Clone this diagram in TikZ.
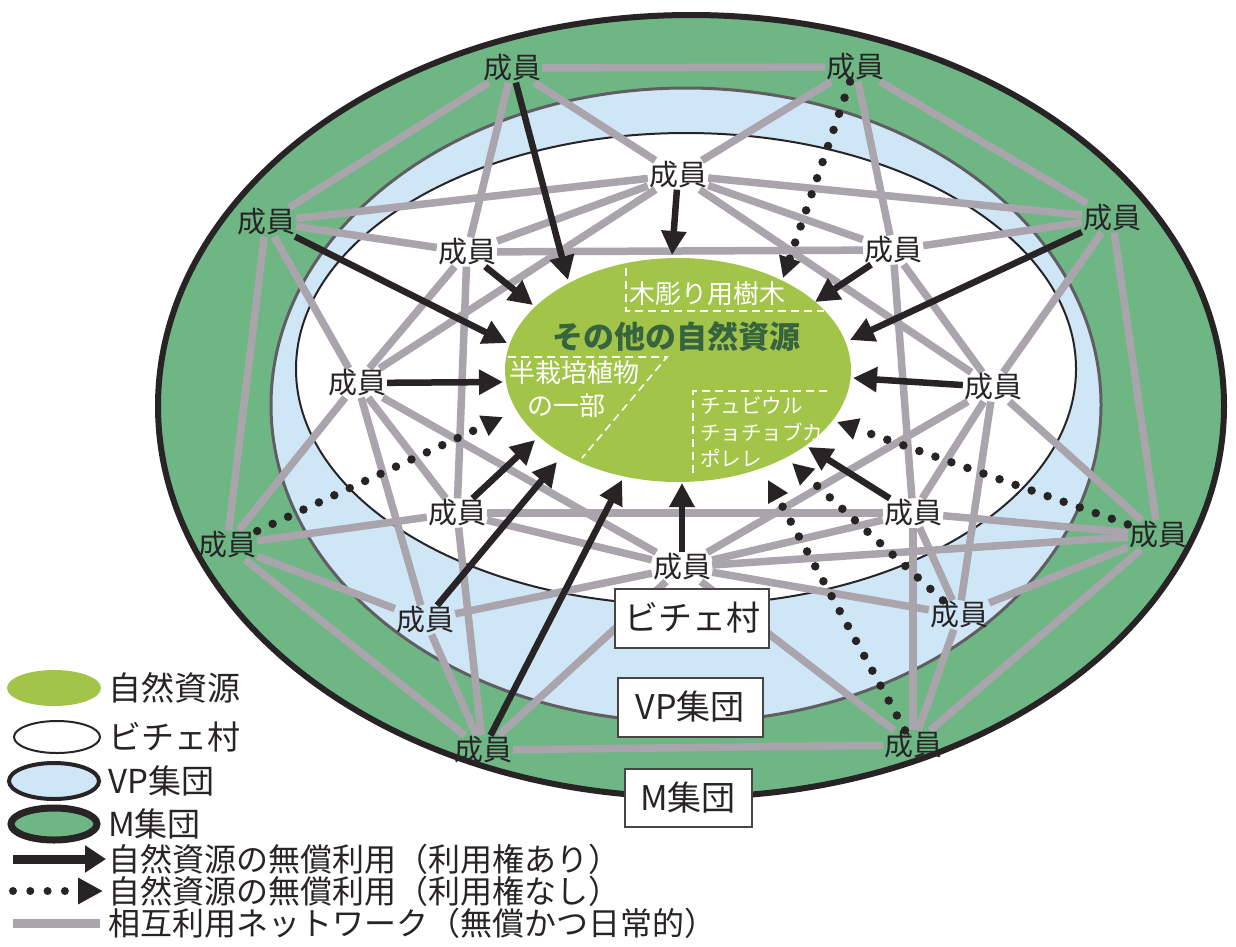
\documentclass[tikz,border=0pt]{standalone}
\usepackage{fontspec}
\setmainfont{Noto Sans CJK JP}
\usetikzlibrary{arrows.meta,shapes.geometric}
\definecolor{mgreen}{RGB}{110,183,133}
\definecolor{vpblue}{RGB}{206,230,246}
\definecolor{resgreen}{RGB}{162,196,72}
\definecolor{netgray}{RGB}{170,164,172}
\definecolor{ink}{RGB}{40,36,38}
\definecolor{restext}{RGB}{55,100,64}
\definecolor{vpline}{RGB}{96,94,98}
\pgfdeclarelayer{bg}
\pgfdeclarelayer{lines}
\pgfsetlayers{bg,lines,main}
\begin{document}
\begin{tikzpicture}[x=1pt,y=-1pt,
  mem/.style={inner sep=1pt,text=ink,font=\fontsize{29}{31}\selectfont},
  net/.style={draw=netgray,line width=7.5pt},
  use/.style={draw=ink,line width=6.5pt,-{Triangle[length=24pt,width=24pt]}},
  free/.style={draw=ink,line width=8.5pt,line cap=round,dash pattern=on 0pt off 17pt,-{Triangle[length=21pt,width=21pt]}},
  sub/.style={text=white,inner sep=0pt},
  wdash/.style={draw=white,line width=1.6pt,dash pattern=on 8pt off 5pt},
  ringlabel/.style={draw=ink!85,line width=2pt,fill=white,text=ink,font=\fontsize{34}{36}\selectfont,inner sep=0pt},
  legtext/.style={anchor=west,text=ink,font=\fontsize{33}{35}\selectfont,inner sep=0pt},
  legtextb/.style={anchor=west,text=ink,font=\fontsize{32}{34}\selectfont,inner sep=0pt},
]
\useasboundingbox (0,0) rectangle (1236,946);
\begin{pgfonlayer}{bg}
  \fill[white] (0,0) rectangle (1236,946);
  \draw[fill=mgreen,draw=ink,line width=6pt] (691,406) ellipse [x radius=533pt,y radius=391pt];
  \draw[fill=vpblue,draw=vpline,line width=3pt] (686,405) ellipse [x radius=415pt,y radius=317pt];
  \draw[fill=white,draw=ink,line width=2pt] (686,369) ellipse [x radius=390pt,y radius=236pt];
  \node[ellipse,fill=resgreen,minimum width=346pt,minimum height=224pt,inner sep=0pt] (res) at (678,370) {};
  \draw[wdash] (626,268) -- (626,311) -- (824,311);
  \draw[wdash] (508,357) -- (667,357) -- (582,458);
  \draw[wdash] (827,391) -- (693,391) -- (693,474);
\end{pgfonlayer}

% resource labels
\node[font=\bfseries\fontsize{31}{33}\selectfont,text=restext,inner sep=0pt] (resname) at (676,337) {その他の自然資源};
\node[sub,font=\fontsize{26}{28}\selectfont] (wood) at (707,294) {木彫り用樹木};
\node[sub,font=\fontsize{26}{28}\selectfont] (semi1) at (574,373) {半栽培植物};
\node[sub,font=\fontsize{26}{28}\selectfont] (semi2) at (566,406) {の一部};
\node[sub,anchor=west,font=\fontsize{20.5}{22}\selectfont] (k1) at (700,405) {チュビウル};
\node[sub,anchor=west,font=\fontsize{20.5}{22}\selectfont] (k2) at (700,432) {チョチョブカ};
\node[sub,anchor=west,font=\fontsize{20.5}{22}\selectfont] (k3) at (700,458) {ポレレ};

% members
\node[mem] (A) at (512,68) {成員};
\node[mem] (B) at (855,67) {成員};
\node[mem] (C) at (678,175) {成員};
\node[mem] (D) at (266,222) {成員};
\node[mem] (E) at (1112,218) {成員};
\node[mem] (F) at (467,252) {成員};
\node[mem] (G) at (893,250) {成員};
\node[mem] (H) at (357,383) {成員};
\node[mem] (I) at (993,387) {成員};
\node[mem] (J) at (457,513) {成員};
\node[mem] (K) at (913,513) {成員};
\node[mem] (L) at (227,545) {成員};
\node[mem] (M) at (1158,535) {成員};
\node[mem] (N) at (682,567) {成員};
\node[mem] (O) at (425,620) {成員};
\node[mem] (P) at (959,615) {成員};
\node[mem] (Q) at (483,750) {成員};
\node[mem] (R) at (913,745) {成員};

% ring labels
\node[ringlabel,minimum width=154pt,minimum height=59pt] (vil) at (692,618) {ビチェ村};
\node[ringlabel,minimum width=145pt,minimum height=59pt] (vpg) at (690,707) {VP集団};
\node[ringlabel,minimum width=127pt,minimum height=58pt] (mg) at (688,798) {M集団};

% arrow tips at the resource
\coordinate (tA) at (568,280);
\coordinate (tC) at (672,255);
\coordinate (tD) at (507,343);
\coordinate (tE) at (850,340);
\coordinate (tF) at (533,305);
\coordinate (tG) at (815,302);
\coordinate (tH) at (503,382);
\coordinate (tI) at (853,378);
\coordinate (tJ) at (535,440);
\coordinate (tK) at (808,447);
\coordinate (tN) at (682,483);
\coordinate (tO) at (557,462);
\coordinate (tQ) at (622,480);
\coordinate (tB) at (783,278);
\coordinate (tL) at (503,417);
\coordinate (tM) at (837,422);
\coordinate (tP) at (792,463);
\coordinate (tR) at (768,480);

\begin{pgfonlayer}{lines}
  \foreach \u/\v in {A/B,A/C,A/D,A/F,B/C,B/E,B/G,C/D,C/E,C/F,C/G,C/H,C/I,
                     D/F,D/H,D/L,E/G,E/I,E/M,F/G,F/H,F/J,G/I,G/K,H/J,H/L,H/N,H/O,
                     I/K,I/M,I/N,I/P,J/K,J/L,J/N,J/Q,K/M,K/N,K/P,K/R,L/O,L/Q,
                     M/N,M/P,M/R,N/O,N/P,N/Q,N/R,O/Q,P/R,Q/R}
    \draw[net] (\u) -- (\v);
  \foreach \u in {A,C,D,E,F,G,H,I,J,K,N,O,Q}
    \draw[use] (\u) -- (t\u);
  \foreach \u in {B,L,M,P,R}
    \draw[free] (\u) -- (t\u);
\end{pgfonlayer}

% legend
\node[ellipse,fill=resgreen,minimum width=94pt,minimum height=36pt,inner sep=0pt] (lg1) at (54,688) {};
\node[legtext] (lt1) at (108,688) {自然資源};
\node[ellipse,draw=ink,line width=2pt,fill=white,minimum width=86pt,minimum height=32pt,inner sep=0pt] (lg2) at (57,737) {};
\node[legtext] (lt2) at (108,737) {ビチェ村};
\node[ellipse,draw=ink,line width=4pt,fill=vpblue,minimum width=90pt,minimum height=36pt,inner sep=0pt] (lg3) at (54,781) {};
\node[legtext] (lt3) at (108,781) {VP集団};
\node[ellipse,draw=ink,line width=7pt,fill=mgreen,minimum width=86pt,minimum height=32pt,inner sep=0pt] (lg4) at (54,824) {};
\node[legtext] (lt4) at (108,824) {M集団};
\coordinate (la1) at (13,859); \coordinate (lb1) at (106,859);
\draw[draw=ink,line width=9pt,-{Triangle[length=21pt,width=26pt]}] (la1) -- (lb1);
\node[legtextb] (lt5) at (108,859) {自然資源の無償利用（利用権あり）};
\coordinate (la2) at (13,891); \coordinate (lb2) at (103,891);
\draw[draw=ink,line width=8pt,line cap=round,dash pattern=on 0pt off 17.3pt,-{Triangle[length=25pt,width=25pt]}] (la2) -- (lb2);
\node[legtextb] (lt6) at (108,891) {自然資源の無償利用（利用権なし）};
\coordinate (la3) at (13,923); \coordinate (lb3) at (100,923);
\draw[draw=netgray,line width=9pt] (la3) -- (lb3);
\node[legtextb] (lt7) at (108,923) {相互利用ネットワーク（無償かつ日常的）};
\end{tikzpicture}
\end{document}
